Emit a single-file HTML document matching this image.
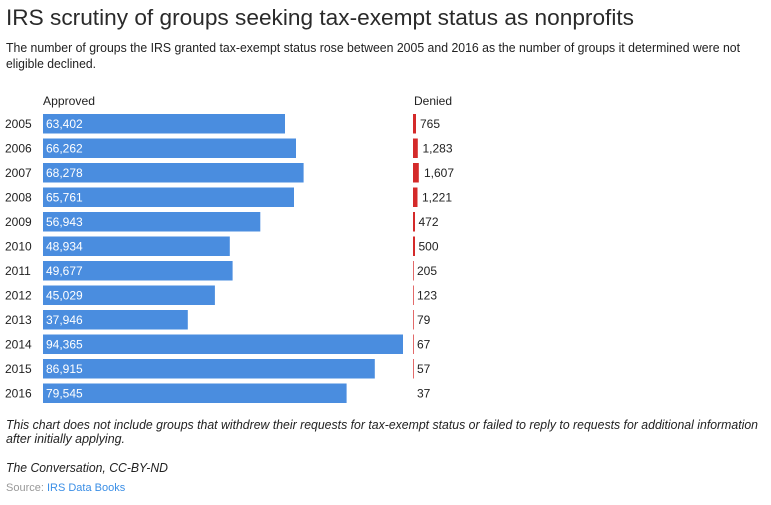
<!DOCTYPE html>
<html><head><meta charset="utf-8"><style>
html,body{margin:0;padding:0;background:#fff;}
svg{display:block;}
text{font-family:"Liberation Sans",Arial,sans-serif;}
</style></head><body>
<svg width="771" height="505" viewBox="0 0 771 505" xmlns="http://www.w3.org/2000/svg">
<rect width="771" height="505" fill="#fff"/>
<text x="6" y="25" font-size="22" fill="#2a2a2a" textLength="628" lengthAdjust="spacingAndGlyphs">IRS scrutiny of groups seeking tax-exempt status as nonprofits</text>
<text x="6" y="52" font-size="12.5" fill="#222" textLength="734" lengthAdjust="spacingAndGlyphs">The number of groups the IRS granted tax-exempt status rose between 2005 and 2016 as the number of groups it determined were not</text>
<text x="6" y="68" font-size="12.5" fill="#222" textLength="90" lengthAdjust="spacingAndGlyphs">eligible declined.</text>
<text x="43" y="105" font-size="12" fill="#222" textLength="52" lengthAdjust="spacingAndGlyphs">Approved</text>
<text x="414" y="105" font-size="12" fill="#222">Denied</text>
<g font-size="12" fill="#222">
<text x="5" y="128">2005</text>
<text x="5" y="152.5">2006</text>
<text x="5" y="177">2007</text>
<text x="5" y="201.5">2008</text>
<text x="5" y="226">2009</text>
<text x="5" y="250.5">2010</text>
<text x="5" y="275">2011</text>
<text x="5" y="299.5">2012</text>
<text x="5" y="324">2013</text>
<text x="5" y="348.5">2014</text>
<text x="5" y="373">2015</text>
<text x="5" y="397.5">2016</text>
</g>
<g fill="#4a8ddf">
<rect x="43" y="114" width="242" height="19.5"/>
<rect x="43" y="138.5" width="253" height="19.5"/>
<rect x="43" y="163" width="260.6" height="19.5"/>
<rect x="43" y="187.5" width="251" height="19.5"/>
<rect x="43" y="212" width="217.3" height="19.5"/>
<rect x="43" y="236.5" width="186.8" height="19.5"/>
<rect x="43" y="261" width="189.6" height="19.5"/>
<rect x="43" y="285.5" width="171.9" height="19.5"/>
<rect x="43" y="310" width="144.8" height="19.5"/>
<rect x="43" y="334.5" width="360" height="19.5"/>
<rect x="43" y="359" width="331.8" height="19.5"/>
<rect x="43" y="383.5" width="303.6" height="19.5"/>
</g>
<g font-size="12" fill="#fff">
<text x="46" y="128">63,402</text>
<text x="46" y="152.5">66,262</text>
<text x="46" y="177">68,278</text>
<text x="46" y="201.5">65,761</text>
<text x="46" y="226">56,943</text>
<text x="46" y="250.5">48,934</text>
<text x="46" y="275">49,677</text>
<text x="46" y="299.5">45,029</text>
<text x="46" y="324">37,946</text>
<text x="46" y="348.5">94,365</text>
<text x="46" y="373">86,915</text>
<text x="46" y="397.5">79,545</text>
</g>
<g fill="#d42a2a">
<rect x="413" y="114" width="3" height="19.5"/>
<rect x="413" y="138.5" width="4.8" height="19.5"/>
<rect x="413" y="163" width="5.8" height="19.5"/>
<rect x="413" y="187.5" width="4.5" height="19.5"/>
<rect x="413" y="212" width="2" height="19.5"/>
<rect x="413" y="236.5" width="2" height="19.5"/>
</g>
<g fill="#e26a6a">
<rect x="413" y="261" width="1" height="19.5"/>
<rect x="413" y="285.5" width="1" height="19.5"/>
<rect x="413" y="310" width="1" height="19.5"/>
<rect x="413" y="334.5" width="1" height="19.5"/>
<rect x="413" y="359" width="1" height="19.5"/>
</g>
<g font-size="12" fill="#222">
<text x="420" y="128">765</text>
<text x="422.5" y="152.5">1,283</text>
<text x="424" y="177">1,607</text>
<text x="422" y="201.5">1,221</text>
<text x="418.5" y="226">472</text>
<text x="418.5" y="250.5">500</text>
<text x="417" y="275">205</text>
<text x="417" y="299.5">123</text>
<text x="417" y="324">79</text>
<text x="417" y="348.5">67</text>
<text x="417" y="373">57</text>
<text x="417" y="397.5">37</text>
</g>
<text x="6" y="429" font-size="12.5" font-style="italic" fill="#222" textLength="752" lengthAdjust="spacingAndGlyphs">This chart does not include groups that withdrew their requests for tax-exempt status or failed to reply to requests for additional information</text>
<text x="6" y="443" font-size="12.5" font-style="italic" fill="#222" textLength="119" lengthAdjust="spacingAndGlyphs">after initially applying.</text>
<text x="6" y="472" font-size="12.5" font-style="italic" fill="#222" textLength="162" lengthAdjust="spacingAndGlyphs">The Conversation, CC-BY-ND</text>
<text x="6" y="491" font-size="11" fill="#999">Source: <tspan fill="#3a8ee6">IRS Data Books</tspan></text>
</svg>
</body></html>
